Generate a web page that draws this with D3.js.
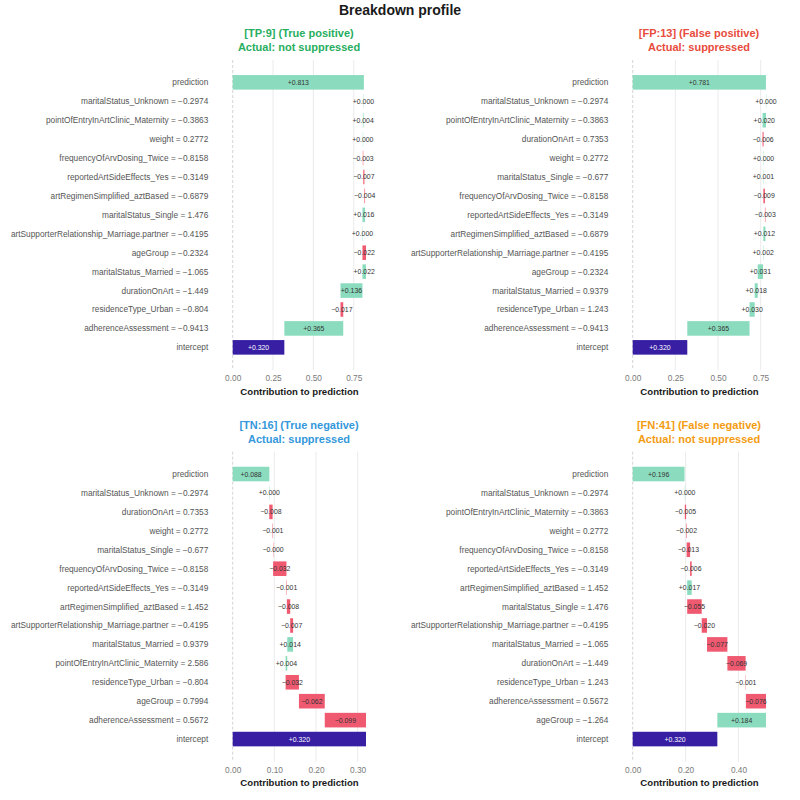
<!DOCTYPE html>
<html>
<head>
<meta charset="utf-8">
<script src="https://cdn.jsdelivr.net/npm/d3@7"></script>
<style>
  body { margin: 0; background: #fff; }
  svg { font-family: "Liberation Sans", Arial, sans-serif; }
</style>
</head>
<body>
<svg id="chart" width="800" height="800"></svg>
<script>
var intercept = 0.320;

// [TP:9]
var labelsTP = ["maritalStatus_Unknown = \u22120.2974", "pointOfEntryInArtClinic_Maternity = \u22120.3863", "weight = 0.2772",
  "frequencyOfArvDosing_Twice = \u22120.8158", "reportedArtSideEffects_Yes = \u22120.3149", "artRegimenSimplified_aztBased = \u22120.6879",
  "maritalStatus_Single = 1.476", "artSupporterRelationship_Marriage.partner = \u22120.4195", "ageGroup = \u22120.2324",
  "maritalStatus_Married = \u22121.065", "durationOnArt = \u22121.449", "residenceType_Urban = \u22120.804", "adherenceAssessment = \u22120.9413"];
var valuesTP = [0.0002, 0.004, 0.0002, -0.003, -0.007, -0.004, 0.016, 0.0002, -0.022, 0.022, 0.136, -0.017, 0.365];
var predTP = 0.813;
var ticksTP = [0, 0.25, 0.5, 0.75];

// [FP:13]
var labelsFP = ["maritalStatus_Unknown = \u22120.2974", "pointOfEntryInArtClinic_Maternity = \u22120.3863", "durationOnArt = 0.7353",
  "weight = 0.2772", "maritalStatus_Single = \u22120.677", "frequencyOfArvDosing_Twice = \u22120.8158", "reportedArtSideEffects_Yes = \u22120.3149",
  "artRegimenSimplified_aztBased = \u22120.6879", "artSupporterRelationship_Marriage.partner = \u22120.4195", "ageGroup = \u22120.2324",
  "maritalStatus_Married = 0.9379", "residenceType_Urban = 1.243", "adherenceAssessment = \u22120.9413"];
var valuesFP = [0.0002, 0.020, -0.006, 0.0002, 0.001, -0.009, -0.003, 0.012, 0.002, 0.031, 0.018, 0.030, 0.365];
var predFP = 0.781;
var ticksFP = [0, 0.25, 0.5, 0.75];

// [TN:16]
var labelsTN = ["maritalStatus_Unknown = \u22120.2974", "durationOnArt = 0.7353", "weight = 0.2772", "maritalStatus_Single = \u22120.677",
  "frequencyOfArvDosing_Twice = \u22120.8158", "reportedArtSideEffects_Yes = \u22120.3149", "artRegimenSimplified_aztBased = 1.452",
  "artSupporterRelationship_Marriage.partner = \u22120.4195", "maritalStatus_Married = 0.9379", "pointOfEntryInArtClinic_Maternity = 2.586",
  "residenceType_Urban = \u22120.804", "ageGroup = 0.7994", "adherenceAssessment = 0.5672"];
var valuesTN = [0.0002, -0.008, -0.001, -0.0002, -0.032, -0.001, -0.008, -0.007, 0.014, 0.004, -0.032, -0.062, -0.099];
var predTN = 0.088;
var ticksTN = [0, 0.1, 0.2, 0.3];

// [FN:41]
var labelsFN = ["maritalStatus_Unknown = \u22120.2974", "pointOfEntryInArtClinic_Maternity = \u22120.3863", "weight = 0.2772",
  "frequencyOfArvDosing_Twice = \u22120.8158", "reportedArtSideEffects_Yes = \u22120.3149", "artRegimenSimplified_aztBased = 1.452",
  "maritalStatus_Single = 1.476", "artSupporterRelationship_Marriage.partner = \u22120.4195", "maritalStatus_Married = \u22121.065",
  "durationOnArt = \u22121.449", "residenceType_Urban = 1.243", "adherenceAssessment = 0.5672", "ageGroup = \u22121.264"];
var valuesFN = [0.0002, -0.005, -0.002, -0.013, -0.006, 0.017, -0.055, -0.020, -0.077, -0.069, -0.001, -0.076, 0.184];
var predFN = 0.196;
var ticksFN = [0, 0.2, 0.4];

var panelTitles = [
  ["[TP:9] (True positive)", "Actual: not suppressed"],
  ["[FP:13] (False positive)", "Actual: suppressed"],
  ["[TN:16] (True negative)", "Actual: suppressed"],
  ["[FN:41] (False negative)", "Actual: not suppressed"]
];
var titleColors = ["#27ae60", "#e74c3c", "#3498db", "#f39c12"];

var colPos = "#8bdcbe", colNeg = "#f05a71", colIntercept = "#371ea3";
var fmt = d3.format("+.3f");

var svg = d3.select("#chart");

svg.append("text")
  .attr("x", 400).attr("y", 14.5)
  .attr("text-anchor", "middle")
  .style("font-size", "14px").style("font-weight", "bold").style("fill", "#1a1a1a")
  .text("Breakdown profile");

function drawPanel(g, labels, values, pred, ticks, title, titleColor) {
  // waterfall rows, built bottom-up from the intercept
  var rows = [];
  var cum = intercept;
  rows.push({ label: "intercept", start: 0, end: intercept, value: intercept, kind: "intercept" });
  for (var i = values.length - 1; i >= 0; i--) {
    rows.push({ label: labels[i], start: cum, end: cum + values[i], value: values[i], kind: values[i] >= 0 ? "pos" : "neg" });
    cum += values[i];
  }
  rows.push({ label: "prediction", start: 0, end: pred, value: pred, kind: "pred" });
  rows.reverse();

  var xmax = d3.max(rows, function(d) { return Math.max(d.start, d.end); });
  var x = d3.scaleLinear().domain([0, xmax]).range([232.7, 366]);
  var y = d3.scaleBand().domain(rows.map(function(d) { return d.label; }))
    .range([70.7, 359]).padding(0.23);

  g.append("text").attr("x", 299).attr("y", 37.3).attr("text-anchor", "middle")
    .style("font-size", "11px").style("font-weight", "bold").style("fill", titleColor).text(title[0]);
  g.append("text").attr("x", 299).attr("y", 51.3).attr("text-anchor", "middle")
    .style("font-size", "11px").style("font-weight", "bold").style("fill", titleColor).text(title[1]);

  g.selectAll(".grid").data(ticks.filter(function(t) { return t > 0; })).enter()
    .append("line").attr("class", "grid")
    .attr("x1", function(d) { return x(d); }).attr("x2", function(d) { return x(d); })
    .attr("y1", 60).attr("y2", 370)
    .style("stroke", "#e6e6e6").style("stroke-width", 0.8);

  g.append("line")
    .attr("x1", x(0)).attr("x2", x(0)).attr("y1", 60).attr("y2", 370)
    .style("stroke", "#c8c8c8").style("stroke-width", 0.8).style("stroke-dasharray", "3,2");

  g.selectAll(".bar").data(rows).enter()
    .append("rect").attr("class", "bar")
    .attr("x", function(d) { return x(Math.min(d.start, d.end)); })
    .attr("width", function(d) { return Math.max(0.3, Math.abs(x(d.end) - x(d.start))); })
    .attr("y", function(d) { return y(d.label); })
    .attr("height", y.bandwidth())
    .style("fill", function(d) {
      if (d.kind == "intercept") return colIntercept;
      if (d.kind == "neg") return colNeg;
      return colPos;
    });

  g.selectAll(".val").data(rows).enter()
    .append("text").attr("class", "val")
    .attr("x", function(d) { return x((d.start + d.end) / 2); })
    .attr("y", function(d) { return y(d.label) + y.bandwidth() / 2 + 2.5; })
    .attr("text-anchor", "middle")
    .style("font-size", "6.9px")
    .style("fill", function(d) { return d.kind == "intercept" ? "#ffffff" : "#333333"; })
    .text(function(d) { return fmt(d.value); });

  g.selectAll(".lab").data(rows).enter()
    .append("text").attr("class", "lab")
    .attr("x", 208.3)
    .attr("y", function(d) { return y(d.label) + y.bandwidth() / 2 + 3; })
    .attr("text-anchor", "end")
    .style("font-size", "8.3px").style("fill", "#555555")
    .text(function(d) { return d.label; });

  var axis = g.append("g").attr("transform", "translate(0,372)")
    .call(d3.axisBottom(x).tickValues(ticks).tickFormat(d3.format(".2f")).tickSize(0));
  axis.select(".domain").remove();
  axis.selectAll("text").style("font-size", "8.3px").style("fill", "#7a7a7a")
    .style("font-family", "Liberation Sans, Arial, sans-serif");

  g.append("text").attr("x", 299.5).attr("y", 394.5).attr("text-anchor", "middle")
    .style("font-size", "9.6px").style("font-weight", "bold").style("fill", "#1a1a1a")
    .text("Contribution to prediction");
}

var panels = [
  [labelsTP, valuesTP, predTP, ticksTP, 0, 0],
  [labelsFP, valuesFP, predFP, ticksFP, 400, 0],
  [labelsTN, valuesTN, predTN, ticksTN, 0, 391.7],
  [labelsFN, valuesFN, predFN, ticksFN, 400, 391.7]
];

panels.forEach(function(p, i) {
  var g = svg.append("g").attr("transform", "translate(" + p[4] + "," + p[5] + ")");
  drawPanel(g, p[0], p[1], p[2], p[3], panelTitles[i], titleColors[i]);
});
</script>
</body>
</html>
